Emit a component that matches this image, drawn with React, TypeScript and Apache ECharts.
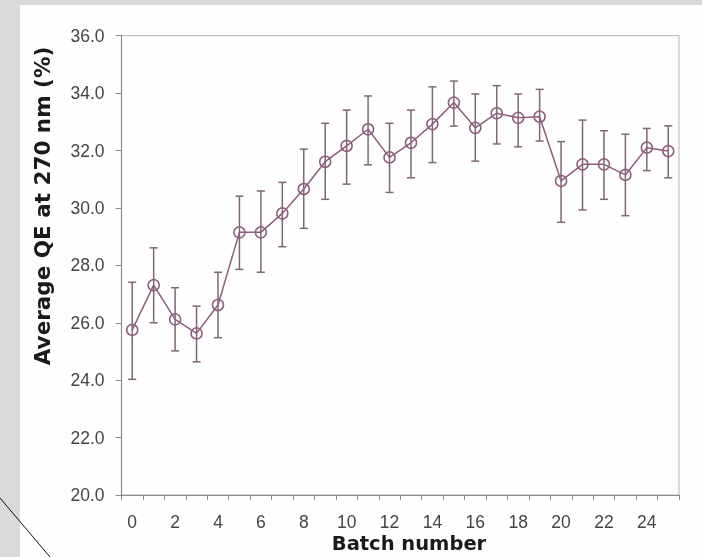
import React, { useEffect, useRef } from "react";
import * as echarts from "echarts";

const batches = ["0","1","2","3","4","5","6","7","8","9","10","11","12","13","14","15","16","17","18","19","20","21","22","23","24","25"];
const meanQE = [25.75, 27.31, 26.12, 25.63, 26.62, 29.15, 29.15, 29.81, 30.66, 31.61, 32.16, 32.74, 31.76, 32.27, 32.92, 33.67, 32.79, 33.30, 33.14, 33.18, 30.94, 31.52, 31.52, 31.15, 32.10, 31.98];
const upperQE = [27.41, 28.61, 27.22, 26.58, 27.76, 30.41, 30.59, 30.89, 32.05, 32.95, 33.41, 33.90, 32.95, 33.41, 34.22, 34.42, 33.97, 34.26, 33.97, 34.13, 32.31, 33.06, 32.69, 32.57, 32.77, 32.86];
const lowerQE = [24.03, 26.00, 25.02, 24.64, 25.48, 27.86, 27.76, 28.65, 29.29, 30.30, 30.83, 31.50, 30.54, 31.05, 31.58, 32.85, 31.63, 32.23, 32.13, 32.33, 29.50, 29.93, 30.30, 29.73, 31.30, 31.05];
const yTicks = { min: 20, max: 36, step: 2 };

const W = 702;
const H = 557;
const LINE_COLOR = "#8f5d7e";
const ERR_COLOR = "#7f6675";

export default function App() {
  const ref = useRef<HTMLDivElement>(null);
  useEffect(() => {
    if (!ref.current) return;
    const chart = echarts.init(ref.current, undefined, { renderer: "svg", width: W, height: H });
    const errData = batches.map((_, i) => [i, lowerQE[i], upperQE[i]]);
    chart.setOption({
      animation: false,
      backgroundColor: "transparent",
      graphic: [
        { type: "rect", z: -100, shape: { x: 0, y: 0, width: W, height: H }, style: { fill: "#d9d9d9" }, silent: true },
        { type: "rect", z: -99, shape: { x: 20, y: 5, width: W - 20, height: H - 5 }, style: { fill: "#fefefe" }, silent: true },
        { type: "line", z: 100, shape: { x1: 0, y1: 498, x2: 50, y2: 557 }, style: { stroke: "#111", lineWidth: 1 }, silent: true },
        {
          type: "text", z: 100, x: 42, y: 206, rotation: Math.PI / 2,
          style: { text: "Average QE at 270 nm (%)", fill: "#1a1a1a", font: "bold 21.5px 'DejaVu Sans'", align: "center", verticalAlign: "middle" },
        },
        {
          type: "text", z: 100, x: 409, y: 533,
          style: { text: "Batch number", fill: "#1a1a1a", font: "bold 19.5px 'DejaVu Sans'", align: "center", verticalAlign: "top" },
        },
      ],
      grid: {
        left: 121.5, right: W - 679, top: 35.7, bottom: H - 495,
        show: true, borderColor: "#b4b4b4", borderWidth: 1, backgroundColor: "transparent",
      },
      xAxis: {
        type: "category",
        data: batches,
        boundaryGap: true,
        axisLine: { show: true, lineStyle: { color: "#8c8c8c", width: 1.2 } },
        axisTick: { show: true, interval: 0, alignWithLabel: false, length: 5, lineStyle: { color: "#8c8c8c" } },
        axisLabel: { interval: 1, margin: 18, color: "#444", fontSize: 17.5, fontFamily: "Liberation Sans" },
        splitLine: { show: false },
      },
      yAxis: {
        type: "value",
        min: yTicks.min, max: yTicks.max, interval: yTicks.step,
        axisLine: { show: true, lineStyle: { color: "#8c8c8c", width: 1.2 } },
        axisTick: { show: true, length: 6, lineStyle: { color: "#8c8c8c" } },
        axisLabel: { margin: 17, color: "#444", fontSize: 17.5, fontFamily: "Liberation Sans", formatter: (v: number) => v.toFixed(1) },
        splitLine: { show: false },
      },
      series: [
        {
          type: "custom",
          z: 2,
          data: errData,
          encode: { x: 0, y: [1, 2] },
          renderItem: (params: any, api: any) => {
            const x = api.value(0);
            const lo = api.coord([x, api.value(1)]);
            const hi = api.coord([x, api.value(2)]);
            const w = 4;
            const st = { stroke: ERR_COLOR, lineWidth: 1.5 };
            return {
              type: "group",
              children: [
                { type: "line", shape: { x1: lo[0], y1: lo[1], x2: hi[0], y2: hi[1] }, style: st },
                { type: "line", shape: { x1: hi[0] - w, y1: hi[1], x2: hi[0] + w, y2: hi[1] }, style: st },
                { type: "line", shape: { x1: lo[0] - w, y1: lo[1], x2: lo[0] + w, y2: lo[1] }, style: st },
              ],
            };
          },
        },
        {
          type: "line",
          z: 3,
          data: meanQE,
          symbol: "circle",
          symbolSize: 11,
          lineStyle: { color: LINE_COLOR, width: 1.5 },
          itemStyle: { color: "rgba(255,255,255,0)", borderColor: LINE_COLOR, borderWidth: 1.5 },
        },
      ],
    });
    return () => chart.dispose();
  }, []);
  return <div ref={ref} style={{ position: "fixed", left: 0, top: 0, width: W, height: H }} />;
}
